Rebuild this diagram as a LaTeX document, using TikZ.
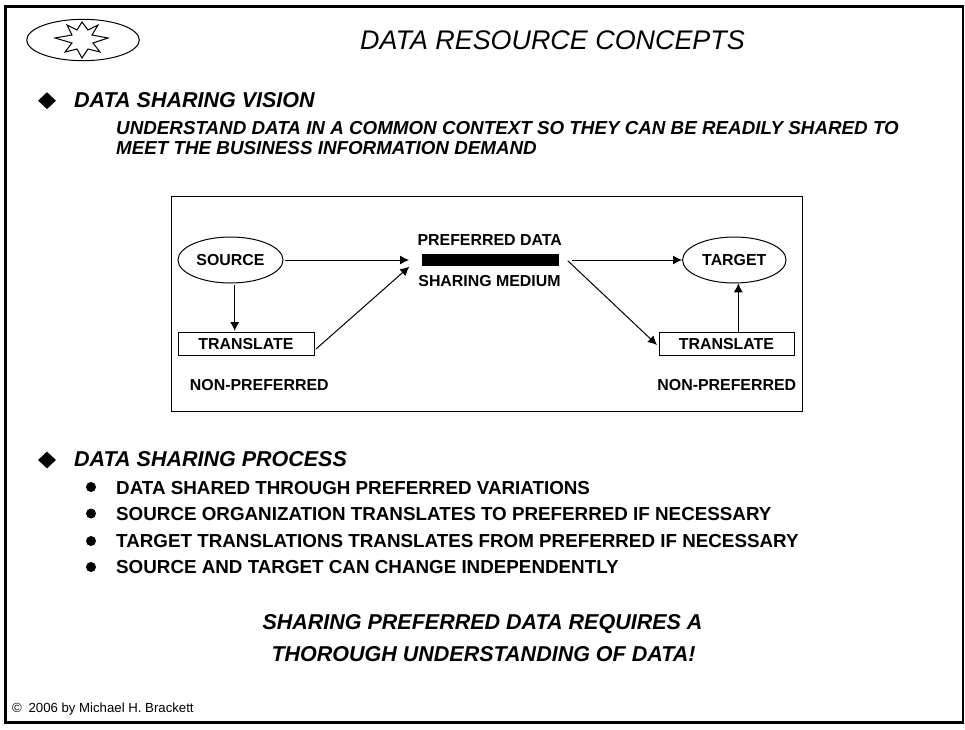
\documentclass[tikz,border=0pt]{standalone}
\usepackage{fontspec}
\setmainfont{Liberation Sans}
\usetikzlibrary{arrows.meta,shapes.geometric}
\tikzset{
 x=1pt,y=-1pt,
 lbl/.style={font=\fontsize{15.9}{18}\selectfont\bfseries,inner sep=0pt},
 head/.style={font=\fontsize{21.5}{24}\selectfont\bfseries\itshape,inner sep=0pt,anchor=west},
 body/.style={font=\fontsize{18.8}{21}\selectfont\bfseries\itshape,inner sep=0pt,anchor=west},
 item/.style={font=\fontsize{18.8}{21}\selectfont\bfseries,inner sep=0pt,anchor=west},
 closing/.style={font=\fontsize{21.5}{24}\selectfont\bfseries\itshape,inner sep=0pt},
 arr/.style={-{Latex[length=9pt,width=9pt]},line width=1pt},
 shapeline/.style={draw,line width=1pt},
 mark dot/.style={circle,fill=black,inner sep=0pt,minimum size=10pt},
 mark dia/.style={diamond,fill=black,inner sep=0pt,minimum width=18pt,minimum height=17pt},
}
\begin{document}
\begin{tikzpicture}
\useasboundingbox (0,0) rectangle (965,729);
\fill[white] (0,0) rectangle (965,729);
\node[draw,line width=2.2pt,minimum width=957.4pt,minimum height=716pt,inner sep=0pt,anchor=north west] (frame) at (4.3,5.3) {};
\node[ellipse,shapeline,minimum width=112.6pt,minimum height=41.4pt,inner sep=0pt] (logo) at (83,40) {};
\draw[line width=1pt,line join=miter] (82,22) -- (88,30) -- (98,25) -- (92,35) -- (108,38) -- (93,43) -- (100,52) -- (88,49) -- (82,58) -- (77,49) -- (65,52) -- (72,43) -- (55,38) -- (72,35) -- (67,25) -- (77,30) -- cycle;
\node[font=\fontsize{26.9}{30}\selectfont\itshape,inner sep=0pt] (title) at (552.5,40.5) {DATA RESOURCE CONCEPTS};
\node[mark dia] (d1) at (47,100.7) {};
\node[head] (h1) at (74,100.5) {DATA SHARING VISION};
\node[body] (b1) at (116,128.5) {UNDERSTAND DATA IN A COMMON CONTEXT SO THEY CAN BE READILY SHARED TO};
\node[body] (b2) at (116,148.5) {MEET THE BUSINESS INFORMATION DEMAND};
\node[draw,line width=1pt,minimum width=631pt,minimum height=214.7pt,inner sep=0pt,anchor=north west] (panel) at (170.7,196) {};
\node[ellipse,shapeline,minimum width=105pt,minimum height=46pt,inner sep=0pt,lbl] (source) at (230.5,260) {SOURCE};
\node[ellipse,shapeline,minimum width=103.5pt,minimum height=46pt,inner sep=0pt,lbl] (target) at (734.3,260) {TARGET};
\node[rectangle,shapeline,minimum width=136pt,minimum height=23pt,inner sep=0pt,lbl] (tl) at (246,343.7) {TRANSLATE};
\node[rectangle,shapeline,minimum width=135pt,minimum height=23pt,inner sep=0pt,lbl] (tr) at (726.5,343.7) {TRANSLATE};
\node[lbl] (npl) at (259.3,385) {NON-PREFERRED};
\node[lbl] (npr) at (726.8,385) {NON-PREFERRED};
\node[lbl] (pd) at (489.7,240) {PREFERRED DATA};
\node[fill=black,minimum width=137.6pt,minimum height=11.5pt,inner sep=0pt] (bar) at (490.5,260) {};
\node[lbl] (sm) at (489.5,280.7) {SHARING MEDIUM};
\coordinate (inA) at (409,260);
\coordinate (inB) at (409.3,266.7);
\coordinate (outA) at (571.7,260);
\coordinate (outB) at (567.7,260.7);
\coordinate (srcS) at (234.7,285);
\coordinate (tlN) at (234.7,331);
\coordinate (tlE) at (316,349);
\coordinate (trN) at (738.3,332);
\coordinate (tgS) at (738.3,283.3);
\coordinate (trW) at (657,345);
\draw[arr] (source.east) ++(1,0) -- (inA);
\draw[arr] (srcS) -- (tlN);
\draw[arr] (tlE) -- (inB);
\draw[arr] (outA) -- (target.west);
\draw[arr] (outB) -- (trW);
\draw[arr] (trN) -- (tgS);
\node[mark dia] (d2) at (47,460) {};
\node[head] (h2) at (74,459.5) {DATA SHARING PROCESS};
\node[mark dot] (m1) at (91,487) {};
\node[item] (i1) at (116,488) {DATA SHARED THROUGH PREFERRED VARIATIONS};
\node[mark dot] (m2) at (91,513.5) {};
\node[item] (i2) at (116,514.5) {SOURCE ORGANIZATION TRANSLATES TO PREFERRED IF NECESSARY};
\node[mark dot] (m3) at (91,541) {};
\node[item] (i3) at (116,541) {TARGET TRANSLATIONS TRANSLATES FROM PREFERRED IF NECESSARY};
\node[mark dot] (m4) at (91,567) {};
\node[item] (i4) at (116,567.5) {SOURCE AND TARGET CAN CHANGE INDEPENDENTLY};
\node[closing] (c1) at (482.5,624) {SHARING PREFERRED DATA REQUIRES A};
\node[closing] (c2) at (483.5,654) {THOROUGH UNDERSTANDING OF DATA!};
\node[font=\fontsize{13.2}{15}\selectfont,inner sep=0pt,anchor=west] (copy) at (12,709) {©\hspace{3pt} 2006 by Michael H. Brackett};
\end{tikzpicture}
\end{document}
